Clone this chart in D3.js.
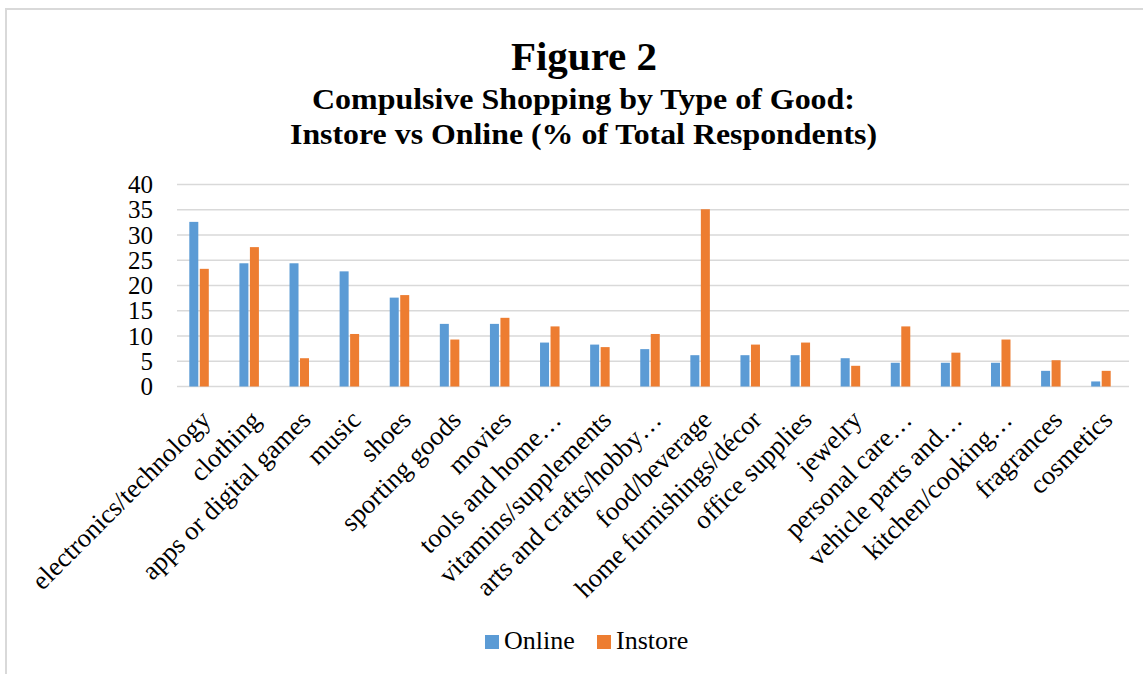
<!DOCTYPE html>
<html>
<head>
<meta charset="utf-8">
<script src="https://cdn.jsdelivr.net/npm/d3@7"></script>
<style>
  body { margin: 0; background: #fff; }
  svg text { font-family: "Liberation Serif", "Times New Roman", serif; fill: #000; }
</style>
</head>
<body>
<div id="chart"></div>
<script>
    var width = 1143
    var height = 674

    // categories and values (% of total respondents)
    var categories = ["electronics/technology", "clothing", "apps or digital games", "music", "shoes",
        "sporting goods", "movies", "tools and home…", "vitamins/supplements", "arts and crafts/hobby…",
        "food/beverage", "home furnishings/décor", "office supplies", "jewelry", "personal care…",
        "vehicle parts and…", "kitchen/cooking…", "fragrances", "cosmetics"];
    var online = [32.6, 24.4, 24.4, 22.8, 17.6, 12.4, 12.4, 8.7, 8.3, 7.4, 6.2, 6.2, 6.2, 5.6, 4.7, 4.7, 4.7, 3.1, 1.0];
    var instore = [23.3, 27.6, 5.6, 10.4, 18.1, 9.3, 13.6, 11.9, 7.8, 10.4, 35.1, 8.3, 8.7, 4.1, 11.9, 6.7, 9.3, 5.2, 3.1];
    var seriesNames = ["Online", "Instore"];
    var colors = ["#5B9BD5", "#ED7D31"];
    var yTicks = [0, 5, 10, 15, 20, 25, 30, 35, 40];

    var svg = d3.select("#chart").append("svg")
        .attr("width", width)
        .attr("height", height);

    // frame
    svg.append("path")
        .attr("d", "M6," + height + "V9H" + width)
        .attr("fill", "none")
        .attr("stroke", "#d9d9d9")
        .attr("stroke-width", 2);

    // titles
    svg.append("text").attr("x", 584).attr("y", 70)
        .attr("text-anchor", "middle").attr("font-weight", "bold").attr("font-size", "41px")
        .text("Figure 2");
    svg.append("text").attr("x", 312).attr("y", 109)
        .attr("font-weight", "bold").attr("font-size", "30px")
        .attr("textLength", 543).attr("lengthAdjust", "spacingAndGlyphs")
        .text("Compulsive Shopping by Type of Good:");
    svg.append("text").attr("x", 290).attr("y", 144)
        .attr("font-weight", "bold").attr("font-size", "30px")
        .attr("textLength", 587).attr("lengthAdjust", "spacingAndGlyphs")
        .text("Instore vs Online (% of Total Respondents)");

    var x = d3.scaleBand().domain(categories).range([174, 1126]);
    var y = d3.scaleLinear().domain([0, 40]).range([386.5, 184.5]);

    // gridlines
    svg.append("g").selectAll("line")
        .data(yTicks)
        .enter().append("line")
        .attr("x1", 177).attr("x2", 1129)
        .attr("y1", function (d) { return y(d); })
        .attr("y2", function (d) { return y(d); })
        .attr("stroke", "#d9d9d9")
        .attr("stroke-width", 1.5);

    // y axis labels
    var yAxis = svg.append("g")
        .attr("transform", "translate(153,0)")
        .call(d3.axisLeft(y).tickValues(yTicks).tickSize(0).tickPadding(0));
    yAxis.select(".domain").remove();
    yAxis.selectAll("text")
        .attr("font-size", "25px")
        .attr("font-family", "Liberation Serif")
        .attr("fill", "#000");

    // bars
    var barW = 9, gap = 1.5;
    var data = [online, instore];
    data.forEach(function (vals, s) {
        svg.append("g").selectAll("rect")
            .data(vals)
            .enter().append("rect")
            .attr("x", function (d, i) {
                var c = x(categories[i]) + x.bandwidth() / 2;
                return s === 0 ? c - gap / 2 - barW : c + gap / 2;
            })
            .attr("y", function (d) { return y(d); })
            .attr("width", barW)
            .attr("height", function (d) { return y(0) - y(d); })
            .attr("fill", colors[s]);
    });

    // x labels, rotated
    var xAxis = svg.append("g")
        .attr("transform", "translate(0,386.5)")
        .call(d3.axisBottom(x).tickSize(0).tickPadding(0));
    xAxis.select(".domain").remove();
    xAxis.selectAll("text")
        .attr("font-size", "26.5px")
        .attr("font-family", "Liberation Serif")
        .attr("fill", "#000")
        .attr("text-anchor", "end")
        .attr("dy", 0)
        .attr("y", 0)
        .attr("transform", "translate(13,35) rotate(-45)");

    // legend
    var legend = svg.append("g");
    var lx = [485, 597];
    seriesNames.forEach(function (name, i) {
        legend.append("rect")
            .attr("x", lx[i]).attr("y", 635)
            .attr("width", 14).attr("height", 14)
            .attr("fill", colors[i]);
        legend.append("text")
            .attr("x", lx[i] + 19).attr("y", 649)
            .attr("font-size", "26px")
            .text(name);
    });
</script>
</body>
</html>
